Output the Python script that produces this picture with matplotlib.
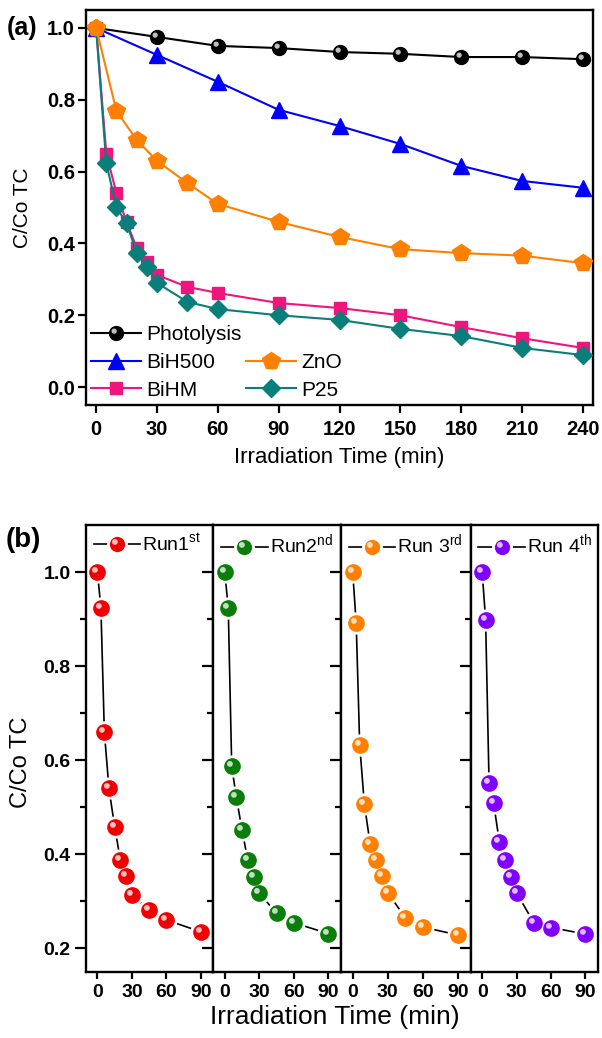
import numpy as np
import matplotlib
matplotlib.use("Agg")
import matplotlib.pyplot as plt
from matplotlib.path import Path
from matplotlib.legend_handler import HandlerTuple
from matplotlib.ticker import FixedLocator
from matplotlib.lines import Line2D

plt.rcParams["font.family"] = ["Liberation Sans", "DejaVu Sans"]
plt.rcParams["mathtext.fontset"] = "custom"
plt.rcParams["mathtext.rm"] = "Liberation Sans"

# ---- panel (a) data ----
t_long = [0, 30, 60, 90, 120, 150, 180, 210, 240]
photolysis = [1.0, 0.975, 0.95, 0.944, 0.933, 0.928, 0.919, 0.919, 0.913]
bih500 = [1.0, 0.925, 0.85, 0.772, 0.727, 0.677, 0.616, 0.574, 0.555]
t_zno = [0, 10, 20, 30, 45, 60, 90, 120, 150, 180, 210, 240]
zno = [1.0, 0.769, 0.688, 0.63, 0.568, 0.51, 0.46, 0.418, 0.384, 0.373, 0.366, 0.345]
t_fast = [0, 5, 10, 15, 20, 25, 30, 45, 60, 90, 120, 150, 180, 210, 240]
bihm = [1.0, 0.65, 0.54, 0.46, 0.387, 0.348, 0.312, 0.279, 0.262, 0.234,
        0.22, 0.2, 0.167, 0.136, 0.109]
p25 = [1.0, 0.624, 0.50, 0.457, 0.373, 0.335, 0.29, 0.237, 0.217, 0.2,
       0.187, 0.162, 0.142, 0.109, 0.089]
a_xticks = [0, 30, 60, 90, 120, 150, 180, 210, 240]
a_yticks = [0.0, 0.2, 0.4, 0.6, 0.8, 1.0]

# ---- panel (b) data ----
t_run = [0, 3, 6, 10, 15, 20, 25, 30, 45, 60, 90]
run1 = [1.0, 0.923, 0.66, 0.54, 0.458, 0.387, 0.354, 0.313, 0.281, 0.26, 0.235]
run2 = [1.0, 0.923, 0.587, 0.521, 0.451, 0.387, 0.352, 0.317, 0.274, 0.254, 0.231]
run3 = [1.0, 0.892, 0.632, 0.506, 0.421, 0.387, 0.353, 0.318, 0.265, 0.245, 0.228]
run4 = [1.0, 0.899, 0.552, 0.508, 0.426, 0.387, 0.352, 0.318, 0.254, 0.244, 0.23]
runs = [run1, run2, run3, run4]
run_labels = [r"Run1$^{\mathregular{st}}$", r"Run2$^{\mathregular{nd}}$",
              r"Run 3$^{\mathregular{rd}}$", r"Run 4$^{\mathregular{th}}$"]
run_colors = ["#f00000", "#0a7d0a", "#ff8000", "#8000ff"]
b_xticks = [0, 30, 60, 90]

W, H = 602, 1038
fig = plt.figure(figsize=(W / 100, H / 100), dpi=100)


def box(l, t, r, b):
    return [l / W, 1 - b / H, (r - l) / W, (b - t) / H]


def style_spines(ax):
    for s in ax.spines.values():
        s.set_linewidth(1.7)


# shine spot for the "ball" markers: small circle up-left of centre,
# with an invisible anchor vertex so matplotlib keeps the offset
_c = Path.circle((-0.17, 0.17), 0.19)
SHINE = Path(np.vstack([[[0.5, 0.5]], _c.vertices]),
             np.concatenate([[Path.MOVETO], _c.codes]))
shine_kw = dict(ls="none", marker=SHINE, mfc="white", mec="none", alpha=0.75)

overlay = {tuple: HandlerTuple(ndivide=1, pad=0)}

# ================= (a) =================
ax = fig.add_axes(box(86, 10, 593, 405))
style_spines(ax)
lw = 1.5
l_ph, = ax.plot(t_long, photolysis, color="black", lw=lw, marker="o", ms=10,
                mfc="black", mec="black", zorder=3)
h_ph, = ax.plot(t_long, photolysis, ms=10, zorder=3.1, **shine_kw)
l_bh, = ax.plot(t_long, bih500, color="#0000ff", lw=lw, marker="^", ms=12,
                mec="#0000ff", zorder=4)
l_hm, = ax.plot(t_fast, bihm, color="#f0147d", lw=lw, marker="s", ms=9,
                mec="#f0147d", zorder=5)
l_p25, = ax.plot(t_fast, p25, color="#087f7b", lw=lw, marker="D", ms=9,
                 mec="#087f7b", zorder=6)
l_zn, = ax.plot(t_zno, zno, color="#ff8000", lw=lw, marker="p", ms=13,
                mec="#ff8000", zorder=7)

ax.set_xlim(-5, 245)
ax.set_ylim(-0.05, 1.05)
ax.set_xticks(a_xticks)
ax.set_yticks(a_yticks)
ax.set_yticklabels([f"{v:.1f}" for v in a_yticks])
ax.tick_params(direction="out", length=6, width=1.6, labelsize=14.5, pad=2)
ax.tick_params(axis="x", pad=5)
for lab in ax.get_xticklabels() + ax.get_yticklabels():
    lab.set_fontweight("bold")

blank = Line2D([], [], ls="none", marker="none")
leg = ax.legend([(l_ph, h_ph), l_bh, l_hm, blank, l_zn, l_p25],
                ["Photolysis", "BiH500", "BiHM", "", "ZnO", "P25"],
                handler_map=overlay,
                ncol=2, loc="lower left", frameon=False, fontsize=15,
                handlelength=2.4, handletextpad=0.25, columnspacing=0.2,
                labelspacing=0.42, borderaxespad=0.15, borderpad=0.1)

fig.text(339 / W, 1 - 458 / H, "Irradiation Time (min)", fontsize=16,
         ha="center", va="center")
fig.text(23 / W, 1 - 208 / H, "C/Co TC", fontsize=15, rotation=90,
         ha="center", va="center")
fig.text(7 / W, 1 - 28 / H, "(a)", fontsize=18, fontweight="bold",
         ha="left", va="center")

# ================= (b) =================
edges = [86, 213.3, 341, 470.7, 598]
for i in range(4):
    bx = fig.add_axes(box(edges[i], 525, edges[i + 1], 971.7))
    style_spines(bx)
    c = run_colors[i]
    ms = 11
    bx.plot(t_run, runs[i], color="black", lw=1.2, zorder=2)
    # white halo under the balls leaves a small gap in the connecting line
    bx.plot(t_run, runs[i], ls="none", marker="o", ms=ms + 4,
            mfc="white", mec="white", zorder=2.5)
    bx.plot(t_run, runs[i], ls="none", marker="o", ms=ms,
            mfc=c, mec=c, zorder=3)
    bx.plot(t_run, runs[i], ms=ms, zorder=3.1, **shine_kw)
    bx.set_xlim(-10, 101)
    bx.set_ylim(0.15, 1.1)
    bx.set_xticks(b_xticks)
    bx.set_yticks([0.2, 0.4, 0.6, 0.8, 1.0])
    bx.yaxis.set_minor_locator(FixedLocator([0.3, 0.5, 0.7, 0.9]))
    bx.tick_params(direction="out", width=1.6, labelsize=14)
    bx.tick_params(axis="y", which="major", length=8, pad=3)
    bx.tick_params(axis="y", which="minor", length=4, width=1.6)
    bx.tick_params(axis="x", length=5, pad=4)
    if i == 0:
        bx.set_yticklabels([f"{v:.1f}" for v in [0.2, 0.4, 0.6, 0.8, 1.0]])
    else:
        bx.tick_params(axis="y", labelleft=False)
    for lab in bx.get_xticklabels() + bx.get_yticklabels():
        lab.set_fontweight("bold")
    proxy = Line2D([], [], color="black", lw=1.2, marker="o", ms=13,
                   mfc=c, mec="white", mew=2)
    proxy_hi = Line2D([], [], ms=ms, **shine_kw)
    bx.legend([(proxy, proxy_hi)], [run_labels[i]],
              handler_map=overlay,
              loc="upper left", frameon=False, fontsize=14,
              handlelength=2.4, handletextpad=0.1,
              borderaxespad=0.2, borderpad=0.2)

fig.text(335 / W, 1 - 1017 / H, "Irradiation Time (min)", fontsize=19,
         ha="center", va="center")
fig.text(21 / W, 1 - 762 / H, "C/Co TC", fontsize=17, rotation=90,
         ha="center", va="center")
fig.text(6 / W, 1 - 540 / H, "(b)", fontsize=20, fontweight="bold",
         ha="left", va="center")

fig.savefig("out.png", dpi=100)
